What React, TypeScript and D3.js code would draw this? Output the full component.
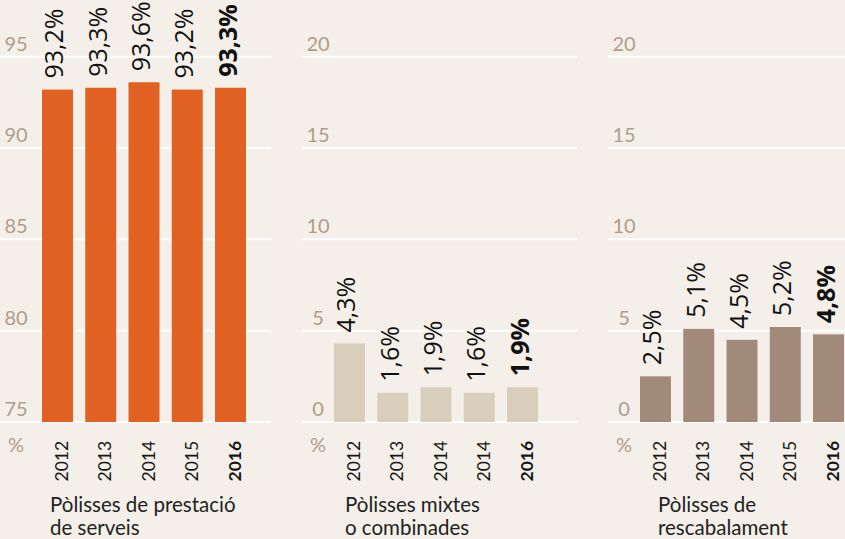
import React from 'react';
import * as d3 from 'd3';

// ---- data ----
const years1 = ['2012', '2013', '2014', '2015', '2016'];
const values1 = [93.2, 93.3, 93.6, 93.2, 93.3];
const ticks1 = [75, 80, 85, 90, 95];
const domain1: [number, number] = [75, 95];

const years2 = ['2012', '2013', '2014', '2014', '2016'];
const values2 = [4.3, 1.6, 1.9, 1.6, 1.9];
const ticks2 = [0, 5, 10, 15, 20];
const domain2: [number, number] = [0, 20];

const years3 = ['2012', '2013', '2014', '2015', '2016'];
const values3 = [2.5, 5.1, 4.5, 5.2, 4.8];
const ticks3 = [0, 5, 10, 15, 20];
const domain3: [number, number] = [0, 20];

const titles1 = ['Pòlisses de prestació', 'de serveis'];
const titles2 = ['Pòlisses mixtes', 'o combinades'];
const titles3 = ['Pòlisses de', 'rescabalament'];

const unitLabel = '%';

// ---- layout / style ----
const W = 845;
const H = 539;
const BG = '#f4f0e9';
const TICK_COLOR = '#b19b8c';
const FONT = 'Lato, "Open Sans", sans-serif';
const VFONT = '"Open Sans", Lato, sans-serif';
const Y_BOTTOM = 422;
const Y_TOP = 56.7;

const panels = [
  { years: years1, values: values1, ticks: ticks1, domain: domain1, titles: titles1, gridX0: 0, gridX1: 271, barX0: 42, titleX: 50, color: '#e06122' },
  { years: years2, values: values2, ticks: ticks2, domain: domain2, titles: titles2, gridX0: 302, gridX1: 577, barX0: 334, titleX: 345, color: '#d9cdbb' },
  { years: years3, values: values3, ticks: ticks3, domain: domain3, titles: titles3, gridX0: 608, gridX1: 845, barX0: 640, titleX: 658, color: '#a28a7a' },
];

const locale = d3.formatLocale({ decimal: ',', thousands: '.', grouping: [3], currency: ['', '€'] });
const fmt = locale.format('.1f');

function Panel({ p }: { p: typeof panels[number] }) {
  const y = d3.scaleLinear().domain(p.domain).range([Y_BOTTOM, Y_TOP]);
  const idx = p.values.map((_, i) => String(i));
  const x = d3.scaleBand<string>().domain(idx).range([p.barX0, p.barX0 + 204]).paddingInner(0.284).paddingOuter(0);
  const bw = x.bandwidth();
  const last = p.values.length - 1;
  return (
    <g>
      {p.ticks.map((t) => (
        <g key={'t' + t}>
          <line x1={p.gridX0} x2={p.gridX1} y1={y(t)} y2={y(t)} stroke="#ffffff" strokeWidth={2} />
          <text x={p.gridX0 + 16} y={y(t) - 6} textAnchor="middle" fontFamily={FONT} fontWeight={400} fontSize={20} fill={TICK_COLOR}>
            {t}
          </text>
        </g>
      ))}
      <text x={p.gridX0 + 16} y={452} textAnchor="middle" fontFamily={FONT} fontWeight={400} fontSize={20} fill={TICK_COLOR}>
        {unitLabel}
      </text>
      {p.values.map((v, i) => {
        const x0 = x(String(i)) as number;
        const cx = x0 + bw / 2;
        return (
          <g key={'b' + i}>
            <rect x={x0} y={y(v)} width={bw} height={y(p.domain[0]) - y(v)} fill={p.color} />
            <text
              transform={`translate(${cx + 6},${y(v) - 11}) rotate(-90)`}
              fontFamily={VFONT}
              fontSize={25}
              fontWeight={i === last ? 700 : 400}
              fill="#111"
            >
              {fmt(v) + '%'}
            </text>
            <text
              transform={`translate(${cx + 10.5},481.5) rotate(-90)`}
              fontFamily={FONT}
              fontSize={17.5}
              fontWeight={i === last ? 700 : 400}
              fill="#161616"
            >
              {p.years[i]}
            </text>
          </g>
        );
      })}
      {p.titles.map((t, k) => (
        <text key={'ti' + k} x={p.titleX} y={512 + k * 23} fontFamily={FONT} fontSize={20.5} fill="#222">
          {t}
        </text>
      ))}
    </g>
  );
}

export default function App() {
  return (
    <svg width={W} height={H} style={{ position: 'absolute', left: 0, top: 0 }}>
      <rect x={0} y={0} width={W} height={H} fill={BG} />
      {panels.map((p, i) => (
        <Panel key={i} p={p} />
      ))}
    </svg>
  );
}
